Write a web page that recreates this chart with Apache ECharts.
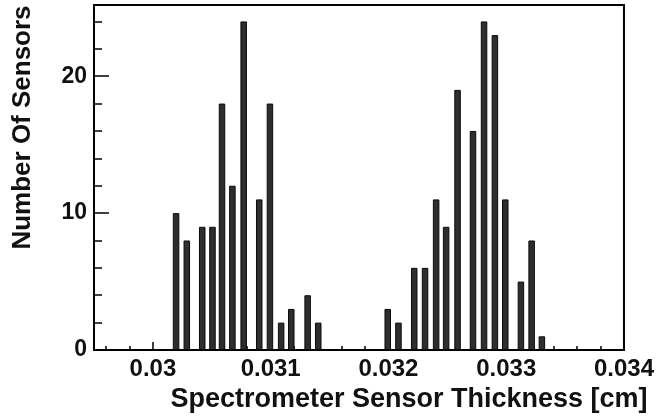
<!DOCTYPE html>
<html>
<head>
<meta charset="utf-8">
<script src="https://cdn.jsdelivr.net/npm/echarts@6/dist/echarts.min.js"></script>
<style>
html,body{margin:0;padding:0;background:#fff;}
#c{width:657px;height:419px;}
</style>
</head>
<body>
<div id="c"></div>
<script>
// Bin centres (cm) and counts
var thickness = [0.030197, 0.030288, 0.030419, 0.030506, 0.030587, 0.030675, 0.030771,
                 0.030903, 0.030994, 0.031089, 0.031175, 0.031314, 0.031404,
                 0.031994, 0.032085, 0.032219, 0.032311, 0.032405, 0.032490, 0.032587,
                 0.032718, 0.032812, 0.032904, 0.032992, 0.033125, 0.033216, 0.033303];
var counts = [10, 8, 9, 9, 18, 12, 24, 11, 18, 2, 3, 4, 2,
              3, 2, 6, 6, 11, 9, 19, 16, 24, 23, 11, 5, 8, 1];

var xMajorTicks = [0.030, 0.031, 0.032, 0.033, 0.034];
var xMinorTicks = [0.0296, 0.0298, 0.0300, 0.0302, 0.0304, 0.0306, 0.0308, 0.0310,
                   0.0312, 0.0314, 0.0316, 0.0318, 0.0320, 0.0322, 0.0324, 0.0326,
                   0.0328, 0.0330, 0.0332, 0.0334, 0.0336, 0.0338];
var yMajorTicks = [0, 10, 20];
var yMinorTicks = [2, 4, 6, 8, 12, 14, 16, 18, 22, 24];

var xMin = 0.0295, xMax = 0.034, yMin = 0, yMax = 25.2;

var data = thickness.map(function (t, i) { return [t, counts[i]]; });

var chart = echarts.init(document.getElementById('c'), null, {renderer: 'canvas'});
var FONT = '"Liberation Sans", Arial, Helvetica, sans-serif';

chart.setOption({
  animation: false,
  backgroundColor: '#ffffff',
  grid: {
    left: 94, right: 31, top: 5, bottom: 69,
    show: true, borderColor: '#000', borderWidth: 2, backgroundColor: 'transparent'
  },
  xAxis: [{
    type: 'value', position: 'bottom', min: xMin, max: xMax,
    axisLine: {show: true, lineStyle: {color: '#000', width: 2}},
    axisTick: {show: true, inside: true, length: 8, customValues: xMajorTicks,
               lineStyle: {color: '#000', width: 1.5}},
    axisLabel: {show: true, customValues: xMajorTicks, margin: 7,
                fontFamily: FONT, fontWeight: 'bold', fontSize: 24, color: '#111',
                formatter: function (v) { return String(+v.toFixed(3)); }},
    splitLine: {show: false},
    name: 'Spectrometer Sensor Thickness [cm]',
    nameLocation: 'middle', nameGap: 33,
    nameTextStyle: {fontFamily: FONT, fontWeight: 'bold', fontSize: 27, color: '#111',
                    padding: [0, 0, 0, 100]}
  }, {
    type: 'value', position: 'bottom', min: xMin, max: xMax,
    axisLine: {show: false},
    axisTick: {show: true, inside: true, length: 4, customValues: xMinorTicks,
               lineStyle: {color: '#000', width: 1.5}},
    axisLabel: {show: false},
    splitLine: {show: false}
  }],
  yAxis: [{
    type: 'value', position: 'left', min: yMin, max: yMax,
    axisLine: {show: true, lineStyle: {color: '#000', width: 2}},
    axisTick: {show: true, inside: true, length: 15, customValues: yMajorTicks,
               lineStyle: {color: '#000', width: 1.5}},
    axisLabel: {show: true, customValues: yMajorTicks, margin: 7,
                fontFamily: FONT, fontWeight: 'bold', fontSize: 23, color: '#111'},
    splitLine: {show: false},
    name: 'Number Of Sensors',
    nameLocation: 'middle', nameGap: 58,
    nameTextStyle: {fontFamily: FONT, fontWeight: 'bold', fontSize: 26, color: '#111',
                    padding: [0, 0, 0, 100]}
  }, {
    type: 'value', position: 'left', min: yMin, max: yMax,
    axisLine: {show: false},
    axisTick: {show: true, inside: true, length: 8, customValues: yMinorTicks,
               lineStyle: {color: '#000', width: 1.5}},
    axisLabel: {show: false},
    splitLine: {show: false}
  }],
  series: [{
    type: 'bar',
    xAxisIndex: 0, yAxisIndex: 0,
    data: data,
    barWidth: 6.5,
    itemStyle: {color: '#2e2e2e', borderColor: '#0a0a0a', borderWidth: 1}
  }]
});
</script>
</body>
</html>
